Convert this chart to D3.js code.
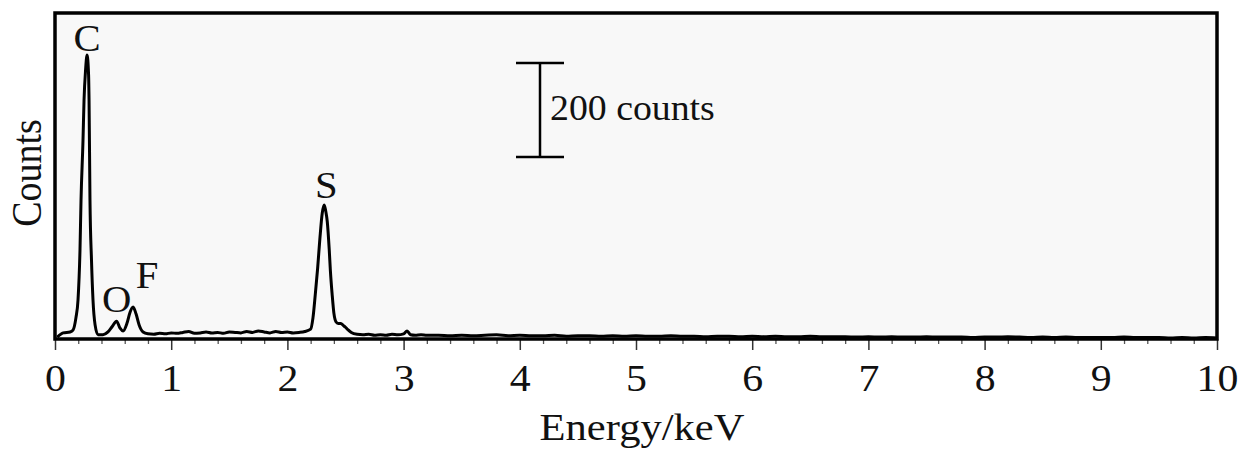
<!DOCTYPE html>
<html>
<head>
<meta charset="utf-8">
<script src="https://cdn.jsdelivr.net/npm/d3@7"></script>
<style>
  html, body { margin: 0; padding: 0; background: #ffffff; }
  svg { display: block; }
  text { font-family: "Liberation Serif", "Times New Roman", serif; fill: #111; }
</style>
</head>
<body>
<svg id="chart" width="1244" height="453"></svg>
<script>
// EDS spectrum: energy (keV) and detector counts
const energyKeV = [
  0.02, 0.07, 0.13, 0.155, 0.18, 0.198, 0.215, 0.224, 0.241, 0.25, 0.263, 0.276,
  0.289, 0.293, 0.301, 0.314, 0.327, 0.345, 0.37, 0.413, 0.456, 0.491, 0.53, 0.56,
  0.586, 0.62, 0.646, 0.672, 0.698, 0.724, 0.758,
  0.80, 0.85, 0.90, 0.95, 1.00, 1.05, 1.10, 1.15, 1.20, 1.25, 1.30, 1.35, 1.40,
  1.45, 1.50, 1.55, 1.60, 1.65, 1.70, 1.75, 1.80, 1.85, 1.90, 1.95, 2.00, 2.05,
  2.10, 2.15, 2.20,
  2.22, 2.24, 2.26, 2.28, 2.30, 2.317, 2.33, 2.343, 2.36, 2.37, 2.385, 2.40, 2.42,
  2.44, 2.46, 2.48, 2.50, 2.52, 2.55, 2.60, 2.65, 2.70, 2.75, 2.80, 2.85, 2.90,
  2.95, 3.00, 3.03, 3.06, 3.10, 3.15, 3.20,
  3.3, 3.4, 3.5, 3.6, 3.7, 3.8, 3.9, 4.0, 4.1, 4.2, 4.3, 4.4, 4.5, 4.6, 4.7, 4.8,
  4.9, 5.0, 5.1, 5.2, 5.3, 5.4, 5.5, 5.6, 5.7, 5.8, 5.9, 6.0, 6.1, 6.2, 6.3, 6.4,
  6.5, 6.6, 6.7, 6.8, 6.9, 7.0, 7.1, 7.2, 7.3, 7.4, 7.5, 7.6, 7.7, 7.8, 7.9, 8.0,
  8.1, 8.2, 8.3, 8.4, 8.5, 8.6, 8.7, 8.8, 8.9, 9.0, 9.1, 9.2, 9.3, 9.4, 9.5, 9.6,
  9.7, 9.8, 9.9, 10.0
];
const counts = [
  4, 13, 15, 19, 45, 83, 189, 296, 423, 509, 572, 604,
  562, 509, 296, 168, 83, 30, 9, 9, 15, 26, 38, 23,
  17, 34, 57, 68, 53, 30, 15,
  11, 10, 12, 11, 13, 12, 14, 16, 12, 13, 15, 13, 14,
  12, 15, 14, 13, 16, 14, 17, 15, 13, 16, 14, 15, 13,
  14, 16, 21,
  45, 95, 150, 215, 268, 285, 272, 250, 190, 145, 95, 55, 36,
  33, 33, 29, 25, 20, 14, 10, 9, 10, 8, 9, 8, 10,
  9, 11, 17, 9, 8, 9, 8,
  8, 7, 8, 7, 8, 9, 7, 8, 7, 7, 8, 6, 7, 7, 6, 7,
  6, 7, 6, 6, 7, 6, 6, 5, 6, 6, 5, 6, 5, 6, 5, 5,
  6, 5, 5, 5, 4, 5, 4, 5, 4, 4, 5, 4, 4, 4, 3, 4,
  4, 5, 4, 3, 4, 3, 4, 3, 3, 3, 3, 4, 3, 3, 3, 2,
  3, 2, 3, 2
];

// Element lines marked on the spectrum
const peakLabels = ["C", "O", "F", "S"];
const peakEnergies = [0.276, 0.53, 0.672, 2.317];
const peakCounts = [604, 38, 68, 285];

// Axis ticks
const majorTicks = [0, 1, 2, 3, 4, 5, 6, 7, 8, 9, 10];
const tickLabels = ["0", "1", "2", "3", "4", "5", "6", "7", "8", "9", "10"];
const scaleBarCounts = 200;

const svg = d3.select("#chart");
const plot = { left: 55, right: 1217, top: 13, bottom: 339 };
const pxPerCount = 0.47;

const x = d3.scaleLinear().domain([0, 10]).range([plot.left, plot.right]);
const y = d3.scaleLinear()
  .domain([0, (plot.bottom - plot.top) / pxPerCount])
  .range([plot.bottom, plot.top]);

// plot area
svg.append("rect")
  .attr("x", plot.left).attr("y", plot.top)
  .attr("width", plot.right - plot.left).attr("height", plot.bottom - plot.top)
  .attr("fill", "#f8f8f8");

// bottom axis: major + minor ticks
const minor = d3.range(0, 10.001, 0.2).filter(v => Math.abs(v - Math.round(v)) > 1e-6);
const xAxisMinor = d3.axisBottom(x).tickValues(minor).tickSize(5).tickFormat("");
const xAxisMajor = d3.axisBottom(x).tickValues(majorTicks).tickSize(11)
  .tickFormat((d, i) => tickLabels[i]);

svg.append("g").attr("transform", `translate(0,${plot.bottom})`).call(xAxisMinor)
  .call(g => g.select(".domain").remove())
  .call(g => g.selectAll("line").attr("stroke", "#555").attr("stroke-width", 1.3));

const gMajor = svg.append("g").attr("transform", `translate(0,${plot.bottom})`).call(xAxisMajor);
gMajor.select(".domain").remove();
gMajor.selectAll("line").attr("stroke", "#333").attr("stroke-width", 1.5);
gMajor.selectAll("text")
  .attr("font-size", 38)
  .attr("y", 0).attr("dy", 0)
  .attr("transform", "translate(0,52) scale(1.1,1)")
  .attr("fill", "#111");

// spectrum trace
const data = energyKeV.map((e, i) => [e, counts[i]]);
const line = d3.line().x(d => x(d[0])).y(d => y(d[1])).curve(d3.curveMonotoneX);
svg.append("path")
  .datum(data)
  .attr("d", line)
  .attr("fill", "none")
  .attr("stroke", "#000")
  .attr("stroke-width", 3)
  .attr("stroke-linejoin", "round");

// frame
svg.append("rect")
  .attr("x", plot.left).attr("y", plot.top)
  .attr("width", plot.right - plot.left).attr("height", plot.bottom - plot.top)
  .attr("fill", "none").attr("stroke", "#000").attr("stroke-width", 3.5);

// peak labels
const labelOffsets = [[0, -4], [0, -9], [14, -19], [2, -7]];
svg.append("g").selectAll("text")
  .data(peakLabels)
  .join("text")
  .attr("transform", (d, i) =>
    `translate(${x(peakEnergies[i]) + labelOffsets[i][0]},${y(peakCounts[i]) + labelOffsets[i][1]}) scale(1.1,1)`)
  .attr("text-anchor", "middle")
  .attr("font-size", 37)
  .text(d => d);

// 200-count scale bar
const barX = 540, barTop = 63, capHalf = 24;
const barLen = y(0) - y(scaleBarCounts);
const bar = svg.append("g").attr("stroke", "#000").attr("stroke-width", 2.5);
bar.append("line").attr("x1", barX).attr("x2", barX).attr("y1", barTop).attr("y2", barTop + barLen);
bar.append("line").attr("x1", barX - capHalf).attr("x2", barX + capHalf).attr("y1", barTop).attr("y2", barTop);
bar.append("line").attr("x1", barX - capHalf).attr("x2", barX + capHalf)
  .attr("y1", barTop + barLen).attr("y2", barTop + barLen);
svg.append("text")
  .attr("transform", `translate(550,120) scale(1.05,1)`)
  .attr("font-size", 36)
  .text(`${scaleBarCounts} counts`);

// axis titles
svg.append("text")
  .attr("transform", "translate(642,440) scale(1.15,1)")
  .attr("text-anchor", "middle")
  .attr("font-size", 37)
  .text("Energy/keV");
svg.append("text")
  .attr("transform", "translate(41,173) scale(1.1,1) rotate(-90)")
  .attr("text-anchor", "middle")
  .attr("font-size", 38)
  .text("Counts");
</script>
</body>
</html>
